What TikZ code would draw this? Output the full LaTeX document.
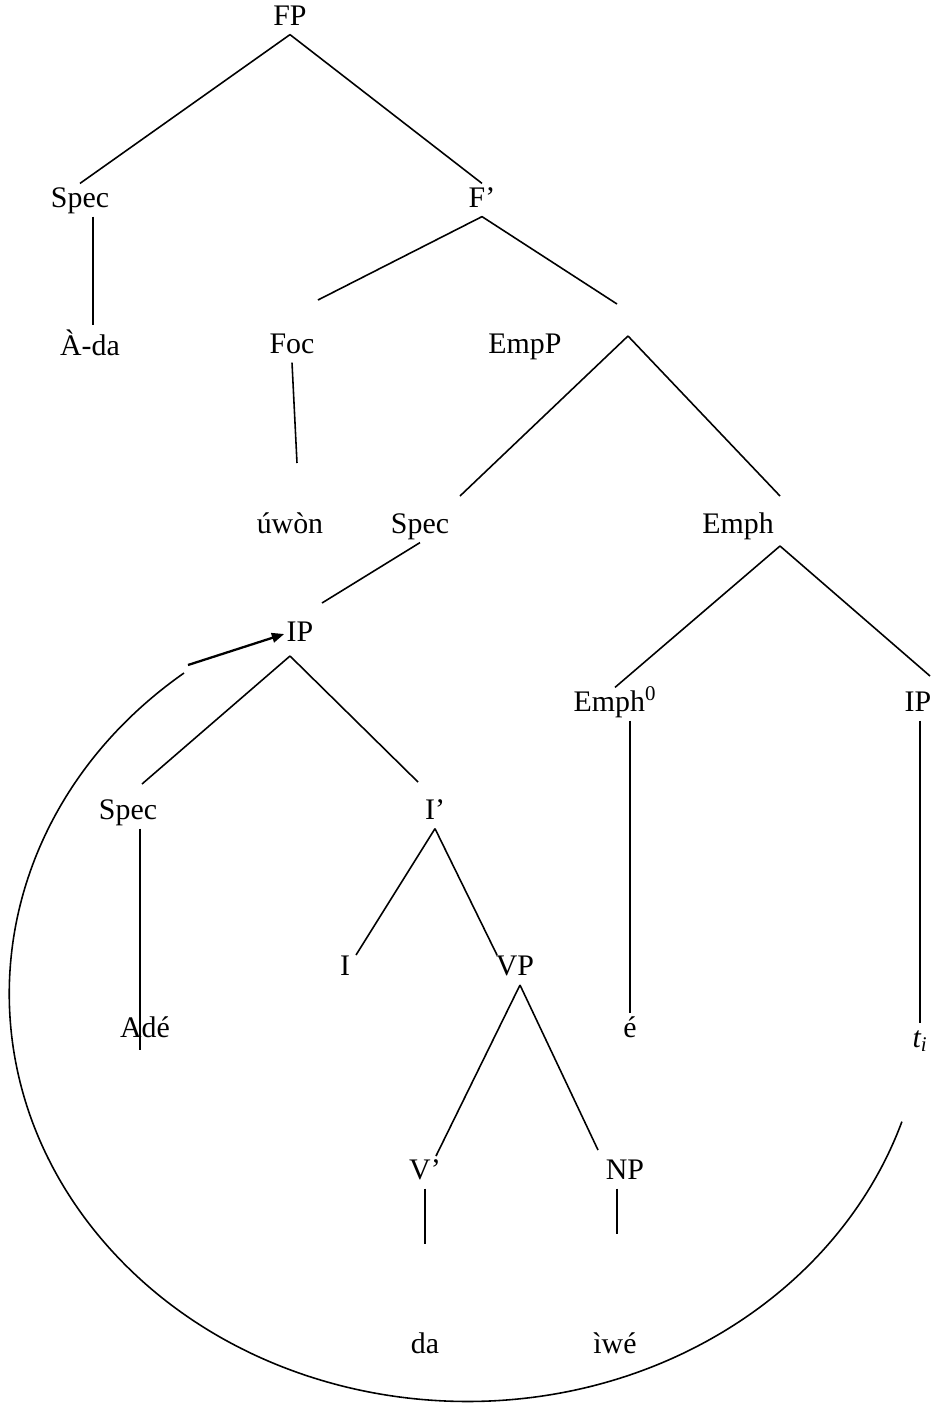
\documentclass[tikz,border=0pt]{standalone}
\usepackage{fontspec}
\setmainfont{Liberation Serif}
\usetikzlibrary{arrows.meta}

\begin{document}
\begin{tikzpicture}[x=0.02cm, y=-0.02cm, line width=0.9pt,
  lab/.style = {inner sep=1pt, text height=12pt, text depth=4pt, font=\fontsize{17}{20}\selectfont}]
 			\useasboundingbox (0,0) rectangle (931,1404);

 			\node[lab] (fp) at (290,18) {FP};
 			\node[lab] (spec1) at (80,200) {Spec};
 			\node[lab] (fbar) at (482,200) {F’};
 			\node[lab] (ada) at (90,348) {À-da};
 			\node[lab] (foc) at (292,346) {Foc};
 			\node[lab] (empp) at (525,346) {EmpP};
 			\node[lab] (uwon) at (290,526) {úwòn};
 			\node[lab] (spec2) at (420,526) {Spec};
 			\node[lab] (emph) at (738,526) {Emph};
 			\node[lab] (ip) at (300,634) {IP};
 			\node[lab] (emph0) at (615,704) {Emph\textsuperscript{0}};
 			\node[lab] (ip2) at (918,704) {IP};
 			\node[lab] (spec3) at (128,812) {Spec};
 			\node[lab] (ibar) at (435,812) {I’};
 			\node[lab] (i) at (345,968) {I};
 			\node[lab] (vp) at (515,968) {VP};
 			\node[lab] (ade) at (145,1030) {Adé};
 			\node[lab] (e) at (630,1030) {é};
 			\node[lab] (ti) at (920,1040) {\textit{t\textsubscript{i}}};
 			\node[lab] (vbar) at (425,1172) {V’};
 			\node[lab] (np) at (625,1172) {NP};
 			\node[lab] (da) at (425,1346) {da};
 			\node[lab] (iwe) at (615,1346) {ìwé};

 			% free ends of the branches
 			\coordinate (adatop) at (93,325);
 			\coordinate (focarm) at (318,300);
 			\coordinate (emparm) at (617,304);
 			\coordinate (uwontop) at (297,463);
 			\coordinate (empapex) at (628,336);
 			\coordinate (spec2arm) at (460,496);
 			\coordinate (empharm) at (780,496);
 			\coordinate (iparm) at (322,603);
 			\coordinate (emphapex) at (780,546);
 			\coordinate (ip2arm) at (930,676);
 			\coordinate (ipapex) at (290,656);
 			\coordinate (spec3arm) at (142,784);
 			\coordinate (ibararm) at (418,782);
 			\coordinate (adeend) at (140,1050);
 			\coordinate (iarm) at (356,955);
 			\coordinate (vparm) at (497,955);
 			\coordinate (vpapex) at (520,985);
 			\coordinate (vbararm) at (436,1156);
 			\coordinate (nparm) at (598,1150);
 			\coordinate (datop) at (425,1244);
 			\coordinate (iwetop) at (617,1234);
 			\coordinate (arcend) at (184,673);
 			\coordinate (arrowtail) at (188,665);

 			\draw (fp.south) -- (spec1.north);
 			\draw (fp.south) -- (fbar.north);
 			\draw (spec1.south -| adatop) -- (adatop);
 			\draw (fbar.south) -- (focarm);
 			\draw (fbar.south) -- (emparm);
 			\draw (foc.south) -- (uwontop);
 			\draw (empapex) -- (spec2arm);
 			\draw (empapex) -- (empharm);
 			\draw (spec2.south) -- (iparm);
 			\draw (emphapex) -- (emph0.north);
 			\draw (emphapex) -- (ip2arm);
 			\draw (ipapex) -- (spec3arm);
 			\draw (ipapex) -- (ibararm);
 			\draw (spec3.south -| adeend) -- (adeend);
 			\draw (ibar.south) -- (iarm);
 			\draw (ibar.south) -- (vparm);
 			\draw (vpapex) -- (vbararm);
 			\draw (vpapex) -- (nparm);
 			\draw (emph0.south -| e.north) -- (e.north);
 			\draw (ip2.south -| ti.north) -- (ti.north);
 			\draw (vbar.south) -- (datop);
 			\draw (np.south -| iwetop) -- (iwetop);

 			% movement
 			\draw[line width=1.3pt, -{Triangle[length=7pt,width=5.5pt]}] (arrowtail) -- (ip.west);
 			\draw (arcend) arc[start angle=128.2, end angle=341.7, x radius=9.16cm, y radius=8.16cm];
 		\end{tikzpicture}
\end{document}
